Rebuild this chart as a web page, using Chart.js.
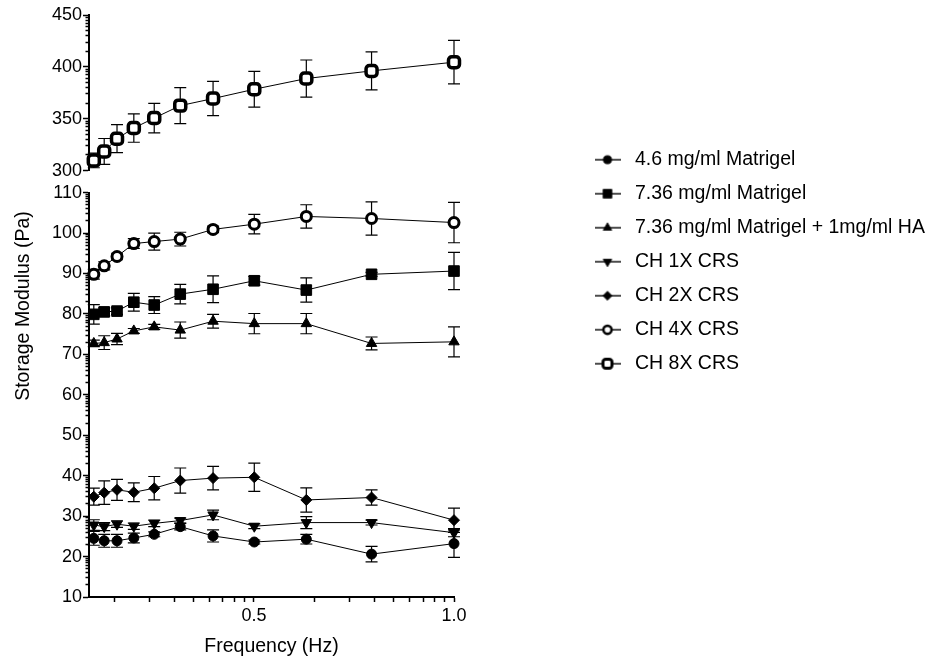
<!DOCTYPE html>
<html>
<head>
<meta charset="utf-8">
<script src="https://cdn.jsdelivr.net/npm/chart.js@4"></script>
<style>
  html, body { margin: 0; padding: 0; background: #fff; }
  #wrap { width: 930px; height: 661px; position: relative; }
</style>
</head>
<body>
<div id="wrap"><canvas id="modulusChart"></canvas></div>
<script>
// frequencies (Hz)
const freq = [0.1, 0.126, 0.158, 0.2, 0.251, 0.316, 0.398, 0.501, 0.631, 0.794, 1.0];

const labels = ['4.6 mg/ml Matrigel', '7.36 mg/ml Matrigel', '7.36 mg/ml Matrigel + 1mg/ml HA',
  'CH 1X CRS', 'CH 2X CRS', 'CH 4X CRS', 'CH 8X CRS'];

const matrigel46 = [24.5, 23.9, 23.9, 24.6, 25.5, 27.4, 25.1, 23.6, 24.3, 20.6, 23.2];
const matrigel46Err = [1.7, 1.6, 1.6, 1.2, 0.6, 0.8, 1.5, 0.5, 1.2, 1.9, 3.4];
const matrigel736 = [79.9, 80.5, 80.7, 82.9, 82.2, 84.9, 86.1, 88.2, 85.9, 89.8, 90.6];
const matrigel736Err = [2.4, 1.0, 0.8, 2.2, 2.1, 2.4, 3.3, 1.1, 3.0, 0.5, 4.6];
const matrigelHA = [72.7, 72.9, 73.8, 75.8, 76.8, 76.0, 78.2, 77.6, 77.6, 72.7, 73.1];
const matrigelHAErr = [0.8, 1.7, 1.4, 0.6, 0.6, 2.0, 1.7, 2.5, 2.5, 1.6, 3.7];
const ch1x = [27.8, 27.4, 28.0, 27.5, 28.2, 28.9, 30.3, 27.5, 28.4, 28.4, 25.9];
const ch1xErr = [1.3, 1.0, 0.8, 0.8, 0.8, 0.6, 1.2, 0.6, 1.5, 0.6, 1.0];
const ch2x = [34.8, 35.8, 36.5, 35.9, 36.9, 38.8, 39.4, 39.6, 34.0, 34.6, 29.0];
const ch2xErr = [2.1, 2.9, 2.6, 2.3, 2.9, 3.1, 2.9, 3.5, 3.0, 1.9, 3.0];
const ch4x = [89.8, 91.9, 94.2, 97.4, 97.9, 98.5, 100.9, 102.2, 104.1, 103.6, 102.6];
const ch4xErr = [1.2, 1.0, 0.8, 1.2, 2.1, 1.7, 0.8, 2.4, 2.9, 4.1, 5.0];
const ch8x = [309.7, 318.4, 330.7, 341.0, 350.6, 362.6, 369.4, 378.4, 388.7, 396.1, 404.5];
const ch8xErr = [7, 12.5, 13.5, 13.7, 14.2, 17.4, 16.5, 17.2, 17.9, 18.4, 21];

// tick labels
const xMajor = [0.5, 1.0];
const yLowMajor = [10, 20, 30, 40, 50, 60, 70, 80, 90, 100, 110];
const yHighMajor = [300, 350, 400, 450];
const minorSteps = [2, 3, 4, 5, 6, 7, 8, 9];

// Prism style log minor ticks inside each major interval
function withMinor(major) {
  const out = major.slice();
  for (let i = 0; i < major.length - 1; i++) {
    const span = major[i + 1] - major[i];
    minorSteps.forEach(k => out.push(major[i] + span * Math.log10(k)));
  }
  return out.sort((a, b) => a - b);
}
const xTicks = withMinor([0, 0.5, 1.0]).filter(v => v > 0.09);
const yLowTicks = withMinor(yLowMajor);
const yHighTicks = withMinor(yHighMajor);

Chart.defaults.font.family = '"Liberation Sans", Arial, Helvetica, sans-serif';
Chart.defaults.color = '#000';

const styles = [
  { pointStyle: 'circle', radius: 5, fill: '#000', bw: 1, rot: 0 },
  { pointStyle: 'rect', radius: 7.5, fill: '#000', bw: 1, rot: 0 },
  { pointStyle: 'triangle', radius: 6, fill: '#000', bw: 1, rot: 0 },
  { pointStyle: 'triangle', radius: 6, fill: '#000', bw: 1, rot: 180 },
  { pointStyle: 'rectRot', radius: 5.5, fill: '#000', bw: 1, rot: 0 },
  { pointStyle: 'circle', radius: 5, fill: '#fff', bw: 3, rot: 0 },
  { pointStyle: 'rectRounded', radius: 6.4, fill: '#fff', bw: 3.5, rot: 0 }
];
const series = [matrigel46, matrigel736, matrigelHA, ch1x, ch2x, ch4x, ch8x];
const errors = [matrigel46Err, matrigel736Err, matrigelHAErr, ch1xErr, ch2xErr, ch4xErr, ch8xErr];

function legendIcon(st) {
  const c = document.createElement('canvas');
  c.width = 26; c.height = 18;
  const g = c.getContext('2d');
  g.strokeStyle = '#000';
  g.lineWidth = 1.4;
  g.beginPath(); g.moveTo(0, 9); g.lineTo(26, 9); g.stroke();
  g.fillStyle = st.fill;
  g.lineWidth = st.bw * 0.85;
  Chart.helpers.drawPoint(g, { pointStyle: st.pointStyle, radius: st.radius * 0.82, rotation: st.rot, borderWidth: st.bw * 0.85 }, 13, 9);
  return c;
}

const datasets = series.map((vals, i) => ({
  label: labels[i],
  data: freq.map((f, j) => ({ x: f, y: vals[j] })),
  errors: errors[i],
  yAxisID: i === 6 ? 'yHigh' : 'yLow',
  borderColor: '#000',
  borderWidth: 1,
  tension: 0,
  fill: false,
  clip: false,
  pointStyle: styles[i].pointStyle,
  pointRotation: styles[i].rot,
  pointRadius: styles[i].radius,
  pointBackgroundColor: styles[i].fill,
  pointBorderColor: '#000',
  pointBorderWidth: styles[i].bw
}));

const errorBars = {
  id: 'errorBars',
  beforeDatasetsDraw(chart) {
    const ctx = chart.ctx;
    ctx.save();
    ctx.strokeStyle = '#000';
    ctx.lineWidth = 1.2;
    chart.data.datasets.forEach((ds, i) => {
      const meta = chart.getDatasetMeta(i);
      const yScale = chart.scales[ds.yAxisID];
      meta.data.forEach((pt, j) => {
        const v = ds.data[j].y, e = ds.errors[j];
        const top = yScale.getPixelForValue(v + e);
        const bot = yScale.getPixelForValue(v - e);
        ctx.beginPath();
        ctx.moveTo(pt.x, top); ctx.lineTo(pt.x, bot);
        ctx.moveTo(pt.x - 6, top); ctx.lineTo(pt.x + 6, top);
        ctx.moveTo(pt.x - 6, bot); ctx.lineTo(pt.x + 6, bot);
        ctx.stroke();
      });
    });
    ctx.restore();
  }
};

// minor y ticks drawn shorter: dash skips the outer part of the tick
function yGrid(major) {
  return {
    drawOnChartArea: false,
    tickLength: 6,
    tickWidth: 1.5,
    tickColor: '#000',
    tickBorderDash: c => (c.tick && !major.includes(c.tick.value)) ? [0, 2.5, 20, 0] : []
  };
}
const xGrid = { drawOnChartArea: false, tickLength: 5, tickWidth: 1.5, tickColor: '#000' };
const axisBorder = { color: '#000', width: 2 };
const hidden = {
  ticks: { display: false },
  grid: { display: false },
  border: { display: false }
};

new Chart(document.getElementById('modulusChart'), {
  type: 'line',
  data: { datasets },
  plugins: [errorBars],
  options: {
    responsive: true,
    maintainAspectRatio: false,
    animation: false,
    layout: { padding: { top: 15, left: 0, right: 0, bottom: 0 } },
    plugins: {
      tooltip: { enabled: false },
      legend: {
        position: 'right',
        align: 'start',
        maxWidth: 354.75,
        title: { display: true, text: ' ', font: { size: 10 }, padding: { top: 108.5, bottom: 0 } },
        labels: {
          usePointStyle: true,
          pointStyleWidth: 35.5,
          padding: 14.5,
          font: { size: 19.5 },
          color: '#000',
          generateLabels: chart => chart.data.datasets.map((ds, i) => ({
            text: ds.label,
            pointStyle: legendIcon(styles[i]),
            datasetIndex: i,
            fillStyle: '#000',
            strokeStyle: '#000',
            lineWidth: 0,
            hidden: false
          }))
        },
        onClick: () => {}
      }
    },
    scales: {
      x: {
        type: 'linear',
        min: 0.088,
        max: 1.0,
        afterBuildTicks: s => { s.ticks = xTicks.map(v => ({ value: v })); },
        ticks: {
          autoSkip: false,
          maxRotation: 0,
          padding: 3,
          font: { size: 18 },
          callback: v => xMajor.some(m => Math.abs(m - v) < 1e-9) ? v.toFixed(1) : ''
        },
        grid: xGrid,
        border: axisBorder,
        title: { display: true, text: 'Frequency (Hz)', font: { size: 19.5 }, padding: { top: 5.7, bottom: 2.3 } }
      },
      yLow: {
        type: 'linear',
        position: 'left',
        stack: 'y',
        stackWeight: 403,
        min: 10,
        max: 110,
        afterBuildTicks: s => { s.ticks = yLowTicks.map(v => ({ value: v })); },
        afterFit: s => { s.width = 37; },
        ticks: {
          autoSkip: false,
          padding: 1,
          font: { size: 18 },
          callback: v => yLowMajor.includes(v) ? String(v) : ''
        },
        grid: yGrid(yLowMajor),
        border: axisBorder
      },
      yGap: Object.assign({
        type: 'linear',
        position: 'left',
        stack: 'y',
        stackWeight: 22,
        min: 0,
        max: 1,
        afterFit: s => { s.width = 37; }
      }, hidden),
      yHigh: {
        type: 'linear',
        position: 'left',
        stack: 'y',
        stackWeight: 155,
        min: 300,
        max: 450,
        afterBuildTicks: s => { s.ticks = yHighTicks.map(v => ({ value: v })); },
        afterFit: s => { s.width = 37; },
        ticks: {
          autoSkip: false,
          padding: 1,
          font: { size: 18 },
          callback: v => yHighMajor.includes(v) ? String(v) : ''
        },
        grid: yGrid(yHighMajor),
        border: axisBorder
      },
      yTitle: Object.assign({
        type: 'linear',
        position: 'left',
        weight: 1,
        afterFit: s => { s.width = 52; },
        title: { display: true, text: 'Storage Modulus (Pa)', font: { size: 19.5 }, padding: { top: 12, bottom: 0 } }
      }, hidden),
      yPad: Object.assign({
        type: 'linear',
        position: 'right',
        afterFit: s => { s.width = 121.25; }
      }, hidden)
    }
  }
});
</script>
</body>
</html>
